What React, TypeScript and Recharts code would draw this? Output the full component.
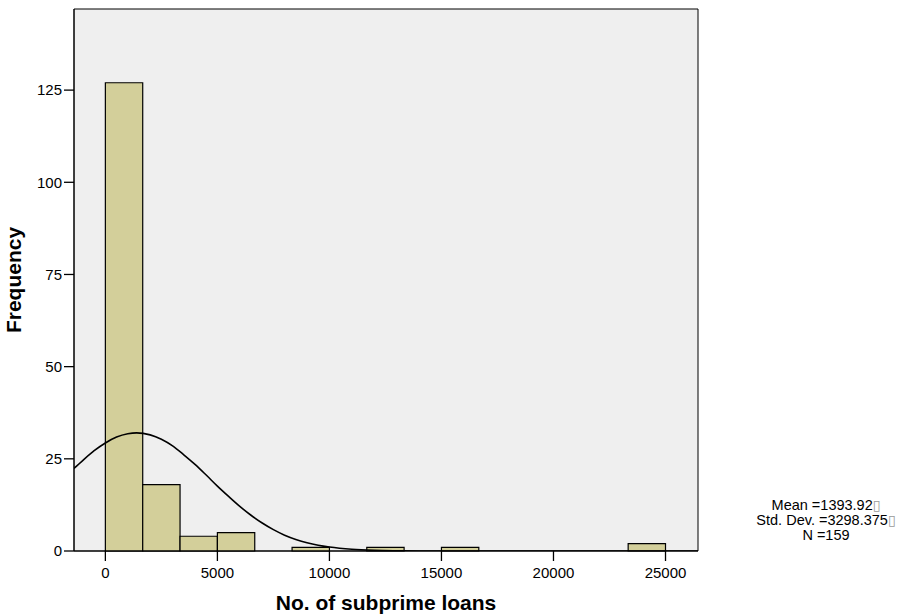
import React from 'react';
import { ComposedChart, XAxis, YAxis, Line, ReferenceArea } from 'recharts';

// Histogram bins (No. of subprime loans) and their frequencies
const binLower = [0, 1667, 3333, 5000, 6667, 8333, 10000, 11667, 13333, 15000, 16667, 18333, 20000, 21667, 23333];
const binUpper = [1667, 3333, 5000, 6667, 8333, 10000, 11667, 13333, 15000, 16667, 18333, 20000, 21667, 23333, 25000];
const frequency = [127, 18, 4, 5, 0, 1, 0, 1, 0, 1, 0, 0, 0, 0, 2];

// Fitted normal curve
const curveX = [-1400, -1000, -500, 0, 500, 1000, 1394, 2000, 2500, 3000, 3500, 4000, 4500, 5000, 5500, 6000, 6500, 7000, 7500, 8000, 8500, 9000, 9500, 10000, 11000, 12000, 13000, 14000, 16000, 20000, 26450];
const curveY = [22.4, 24.6, 27.2, 29.3, 30.9, 31.8, 32.05, 31.5, 30.3, 28.5, 26.1, 23.5, 20.6, 17.6, 14.8, 12.1, 9.7, 7.6, 5.8, 4.3, 3.15, 2.24, 1.56, 1.07, 0.46, 0.18, 0.07, 0.02, 0, 0, 0];

const xTicks = [0, 5000, 10000, 15000, 20000, 25000];
const yTicks = [0, 25, 50, 75, 100, 125];
const statLines = ['Mean =1393.92', 'Std. Dev. =3298.375', 'N =159'];
const statHasBox = [true, true, false];

const X_MIN = -1400;
const X_MAX = 26450;
const Y_MAX = 147;

const FONT = '"Liberation Sans", Arial, sans-serif';
const BAR_FILL = '#D3CF9A';
const PLOT_BG = '#EFEFEF';

const curveData = curveX.map((x, i) => ({ x, y: curveY[i] }));

export default function App() {
  return (
    <div style={{ position: 'absolute', left: 0, top: 0, width: 903, height: 616, background: '#fff', fontFamily: FONT }}>
      <ComposedChart
        width={903}
        height={616}
        data={curveData}
        margin={{ top: 9, right: 205, bottom: 0, left: 0 }}
      >
        <XAxis
          type="number"
          dataKey="x"
          domain={[X_MIN, X_MAX]}
          ticks={xTicks}
          allowDataOverflow
          tickSize={10}
          tickMargin={6}
          height={65}
          axisLine={{ stroke: '#000', strokeWidth: 1 }}
          tickLine={{ stroke: '#000', strokeWidth: 1.3 }}
          tick={{ fill: '#000', fontSize: 15, fontFamily: FONT }}
          label={{
            content: () => (
              <text x={386} y={610} textAnchor="middle" fontSize={21} fontWeight="bold" fontFamily={FONT} fill="#000">
                No. of subprime loans
              </text>
            ),
          }}
        />
        <YAxis
          type="number"
          domain={[0, Y_MAX]}
          ticks={yTicks}
          allowDataOverflow
          width={74}
          tickSize={10}
          tickMargin={2}
          axisLine={{ stroke: '#000', strokeWidth: 1 }}
          tickLine={{ stroke: '#000', strokeWidth: 1.3 }}
          tick={{ fill: '#000', fontSize: 15, fontFamily: FONT }}
          label={{
            content: () => (
              <text
                x={21}
                y={280}
                transform="rotate(-90 21 280)"
                textAnchor="middle"
                fontSize={21}
                fontWeight="bold"
                fontFamily={FONT}
                fill="#000"
              >
                Frequency
              </text>
            ),
          }}
        />
        <ReferenceArea x1={X_MIN} x2={X_MAX} y1={0} y2={Y_MAX} fill={PLOT_BG} fillOpacity={1} stroke="#000" strokeWidth={1} />
        {frequency.map((f, i) =>
          f > 0 ? (
            <ReferenceArea
              key={i}
              x1={binLower[i]}
              x2={binUpper[i]}
              y1={0}
              y2={f}
              fill={BAR_FILL}
              fillOpacity={1}
              stroke="#000"
              strokeWidth={1.2}
            />
          ) : null
        )}
        <Line
          type="monotone"
          dataKey="y"
          stroke="#000"
          strokeWidth={1.6}
          dot={false}
          activeDot={false}
          isAnimationActive={false}
        />
      </ComposedChart>
      <div
        style={{
          position: 'absolute',
          left: 744,
          top: 498,
          width: 164,
          textAlign: 'center',
          fontSize: 14.5,
          lineHeight: '15px',
          color: '#000',
          fontFamily: FONT,
        }}
      >
        {statLines.map((s, i) => (
          <div key={i} style={{ height: 15, whiteSpace: 'nowrap' }}>
            {s}
            {statHasBox[i] ? <span style={{ color: '#999', fontFamily: '"DejaVu Sans"', fontSize: 14, lineHeight: '12px' }}>{'\u25AF'}</span> : null}
          </div>
        ))}
      </div>
    </div>
  );
}
